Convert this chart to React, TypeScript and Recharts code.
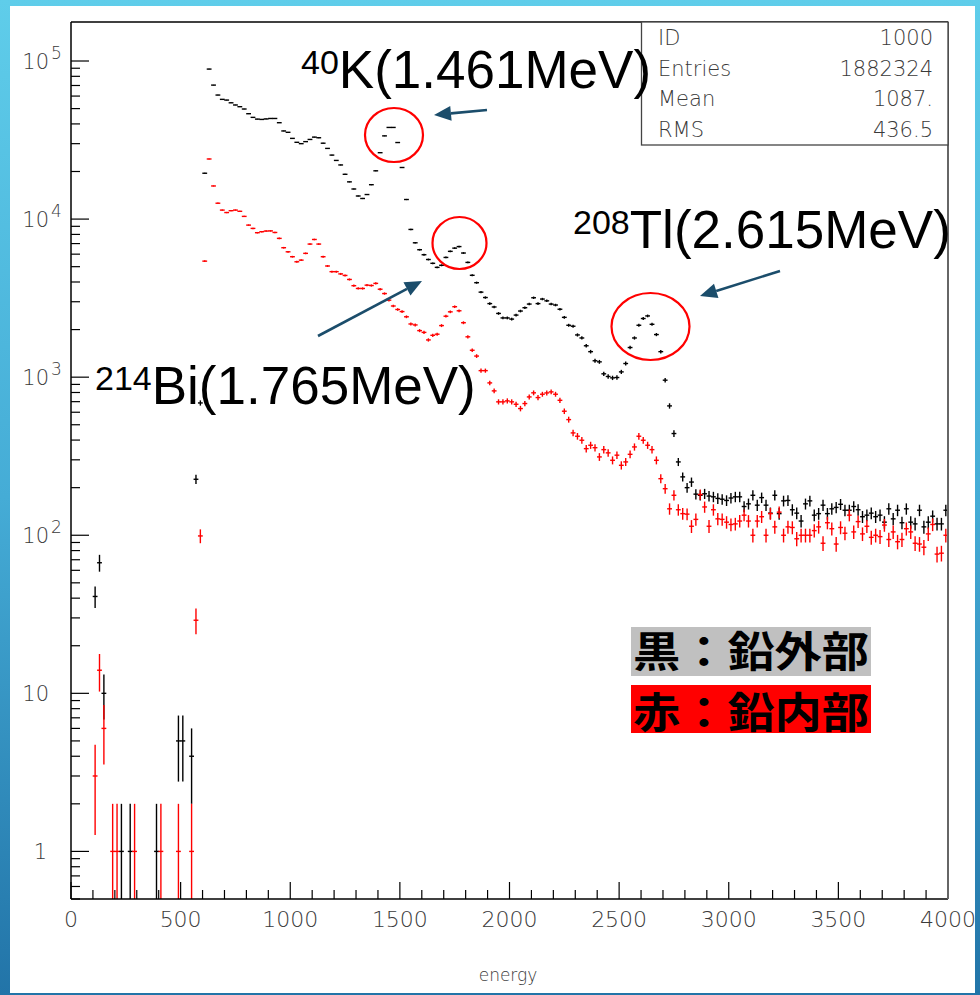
import React from 'react';
import { ScatterChart, Scatter, XAxis, YAxis, ErrorBar } from 'recharts';

// エネルギースペクトル: 20 keV ビン × 200 (0–4000)
const BIN_WIDTH = 20;
const BIN_COUNT = 200;

// 黒：鉛外部
const OUTSIDE_COUNTS = [
  0, 0, 0, 0, 0, 41, 67, 10, 0, 0,
  0, 1, 0, 1, 0, 0, 0, 0, 0, 1,
  0, 0, 0, 0, 5, 5, 0, 4, 226, 687,
  19500, 88900, 70400, 60900, 57200, 56600, 54400, 52700, 51400, 49700,
  46400, 44000, 42900, 42700, 43000, 43300, 43300, 40700, 36100, 35400,
  32400, 30600, 30000, 30900, 31900, 33000, 32700, 30200, 28000, 25400,
  23500, 22000, 19200, 17200, 15500, 14000, 13500, 14300, 16500, 20200,
  26300, 33600, 38000, 38000, 30500, 21200, 13300, 8600, 7080, 6400,
  5950, 5550, 5250, 4950, 5100, 5720, 6250, 6550, 6700, 6100,
  5320, 4410, 3960, 3450, 3190, 2920, 2780, 2530, 2370, 2370,
  2330, 2470, 2620, 2750, 2900, 3180, 2920, 3120, 3040, 2900,
  2860, 2690, 2390, 2130, 2100, 1850, 1770, 1580, 1450, 1270,
  1250, 1050, 1010, 990, 995, 1080, 1220, 1540, 1770, 2130,
  2350, 2440, 2160, 1860, 1450, 957, 658, 440, 291, 234,
  200, 217, 182, 179, 183, 177, 175, 171, 169, 166,
  172, 175, 175, 152, 158, 179, 155, 173, 155, 138,
  179, 137, 165, 166, 145, 138, 123, 158, 165, 134,
  137, 155, 137, 147, 150, 157, 144, 144, 152, 145,
  131, 134, 138, 131, 134, 121, 147, 127, 144, 120,
  147, 121, 118, 144, 113, 121, 132, 118, 118, 144,
];

// 赤：鉛内部
const INSIDE_COUNTS = [
  0, 0, 0, 0, 0, 3, 14, 6, 0, 1,
  1, 0, 0, 0, 1, 0, 0, 0, 0, 0,
  1, 0, 0, 0, 1, 0, 0, 1, 29, 99,
  5420, 24000, 16200, 12600, 11400, 11000, 11300, 11400, 11200, 10400,
  9160, 8730, 8200, 8320, 8400, 8420, 8230, 7550, 6590, 6210,
  5780, 5370, 5500, 6070, 6950, 7430, 6950, 5780, 5050, 4650,
  4650, 4500, 4400, 4150, 3790, 3640, 3640, 3820, 3800, 3920,
  3600, 3380, 3070, 2820, 2680, 2600, 2410, 2170, 2140, 1970,
  1920, 1720, 1840, 1870, 2120, 2430, 2590, 2790, 2630, 2210,
  1800, 1480, 1360, 1100, 1100, 920, 819, 698, 698, 708,
  698, 674, 633, 681, 750, 796, 743, 780, 795, 807,
  780, 714, 609, 539, 444, 423, 399, 353, 371, 358,
  313, 348, 332, 298, 321, 277, 291, 325, 362, 423,
  399, 371, 348, 298, 228, 197, 147, 179, 145, 137,
  136, 114, 126, 181, 151, 114, 145, 127, 126, 121,
  117, 118, 123, 134, 123, 100, 123, 131, 100, 137,
  113, 140, 100, 113, 112, 95, 100, 100, 100, 107,
  113, 89, 120, 110, 88, 112, 103, 134, 105, 122,
  102, 114, 97, 100, 98, 116, 94, 105, 91, 94,
  110, 105, 89, 88, 84, 102, 117, 76, 77, 100,
];

const STAT_NAMES = ['ID', 'Entries', 'Mean', 'RMS'];
const STAT_VALUES = ['1000', '1882324', '1087.', '436.5'];

const LEGEND_LABELS = ['黒：鉛外部', '赤：鉛内部'];

const X_MAX = BIN_WIDTH * BIN_COUNT;
const X_TICKS = Array.from({ length: X_MAX / 100 + 1 }, (_, i) => i * 100);
const Y_MIN = 0.5;
const Y_MAX = 176500;
const DECADES = [0.1, 1, 10, 100, 1000, 10000, 100000];
const Y_TICKS = DECADES.flatMap((d) => [1, 2, 3, 4, 5, 6, 7, 8, 9].map((m) => m * d)).filter(
  (v) => v >= Y_MIN && v <= Y_MAX
);

const X_HALF = 11; // 横棒の半幅 (keV)

const AXIS_FONT = "'DejaVu Sans', sans-serif";
const BIG_FONT = "'Liberation Sans', Arial, sans-serif";
const CJK_FONT = "'Noto Sans CJK JP', sans-serif";
const AXIS_INK = '#3a3a3a';

// ポアソン誤差 (下側は表示範囲で止める)
const toPoints = (counts: number[]) =>
  counts
    .map((n, i) => ({
      e: BIN_WIDTH * i + BIN_WIDTH / 2,
      n,
      ex: X_HALF,
      ey: [Math.min(Math.sqrt(n), n - Y_MIN), Math.sqrt(n)],
    }))
    .filter((p) => p.n > 0);

const outsidePoints = toPoints(OUTSIDE_COUNTS);
const insidePoints = toPoints(INSIDE_COUNTS);

const NoMarker = () => <g />;

const XTick = (props: any) => {
  const { x, y, payload } = props;
  const v = payload.value as number;
  const major = v % 500 === 0;
  return (
    <g>
      <line x1={x} x2={x} y1={y} y2={y - (major ? 17 : 9)} stroke="#000" strokeWidth={1.2} />
      {major && (
        <text x={x} y={y + 28} textAnchor="middle" fontFamily={AXIS_FONT} fontWeight={200} fontSize={22} fill={AXIS_INK}>
          {v}
        </text>
      )}
    </g>
  );
};

const YTick = (props: any) => {
  const { x, y, payload } = props;
  const v = payload.value as number;
  const exp = Math.round(Math.log10(v));
  const major = Math.abs(v - Math.pow(10, exp)) < 1e-6 * v;
  return (
    <g>
      <line x1={x} x2={x + (major ? 18 : 9)} y1={y} y2={y} stroke="#000" strokeWidth={1.2} />
      {major && exp === 0 && (
        <text x={x - 24} y={y + 8} textAnchor="end" fontFamily={AXIS_FONT} fontWeight={200} fontSize={21} fill={AXIS_INK}>
          1
        </text>
      )}
      {major && exp >= 1 && (
        <text x={x - 22} y={y + 8} textAnchor="end" fontFamily={AXIS_FONT} fontWeight={200} fontSize={21} fill={AXIS_INK}>
          10
        </text>
      )}
      {major && exp >= 2 && (
        <text x={x - 20} y={y - 2} fontFamily={AXIS_FONT} fontWeight={200} fontSize={17} fill={AXIS_INK}>
          {exp}
        </text>
      )}
    </g>
  );
};

const Arrow = ({ from, to }: { from: [number, number]; to: [number, number] }) => {
  const dx = to[0] - from[0];
  const dy = to[1] - from[1];
  const len = Math.hypot(dx, dy);
  const ux = dx / len;
  const uy = dy / len;
  const head = 17;
  const half = 7.5;
  const bx = to[0] - ux * head;
  const by = to[1] - uy * head;
  const pts = [
    `${to[0]},${to[1]}`,
    `${bx + uy * half},${by - ux * half}`,
    `${bx - uy * half},${by + ux * half}`,
  ].join(' ');
  return (
    <g>
      <line x1={from[0]} y1={from[1]} x2={bx} y2={by} stroke="#1b4d6b" strokeWidth={2.6} />
      <polygon points={pts} fill="#1b4d6b" />
    </g>
  );
};

// 核種ラベル (上付き質量数)
const Nuclide = ({ x, y, mass, rest }: { x: number; y: number; mass: string; rest: string }) => (
  <text x={x} y={y} fontFamily={BIG_FONT} fontSize={53} fill="#000">
    <tspan fontSize={34} dy={-14}>
      {mass}
    </tspan>
    <tspan dy={14}>{rest}</tspan>
  </text>
);

const App: React.FC = () => {
  return (
    <div
      style={{
        position: 'absolute',
        left: 0,
        top: 0,
        width: 980,
        height: 995,
        background: 'linear-gradient(to bottom, #5fcdea 0%, #45acd6 50%, #2274a8 100%)',
      }}
    >
      <div style={{ position: 'absolute', left: 10, top: 6, width: 965, height: 987, background: '#fff' }} />
      <div style={{ position: 'absolute', left: 0, top: 0 }}>
        <ScatterChart width={980} height={995} margin={{ top: 22, right: 32, bottom: 56, left: 11 }}>
          <XAxis
            type="number"
            dataKey="e"
            domain={[0, X_MAX]}
            allowDataOverflow
            ticks={X_TICKS}
            interval={0}
            tick={XTick}
            tickLine={false}
            tickSize={0}
            tickMargin={0}
            height={40}
            axisLine={{ stroke: '#000', strokeWidth: 1.5 }}
          />
          <YAxis
            type="number"
            dataKey="n"
            scale="log"
            domain={[Y_MIN, Y_MAX]}
            allowDataOverflow
            ticks={Y_TICKS}
            interval={0}
            tick={YTick}
            tickLine={false}
            tickSize={0}
            tickMargin={0}
            width={60}
            axisLine={{ stroke: '#000', strokeWidth: 1.5 }}
          />
          <Scatter data={outsidePoints} fill="#000" shape={NoMarker} isAnimationActive={false}>
            <ErrorBar dataKey="ex" direction="x" width={0} stroke="#000" strokeWidth={1.4} isAnimationActive={false} />
            <ErrorBar dataKey="ey" direction="y" width={0} stroke="#000" strokeWidth={1.4} isAnimationActive={false} />
          </Scatter>
          <Scatter data={insidePoints} fill="#f00" shape={NoMarker} isAnimationActive={false}>
            <ErrorBar dataKey="ex" direction="x" width={0} stroke="#f00" strokeWidth={1.4} isAnimationActive={false} />
            <ErrorBar dataKey="ey" direction="y" width={0} stroke="#f00" strokeWidth={1.4} isAnimationActive={false} />
          </Scatter>
        </ScatterChart>
      </div>

      <svg
        width={980}
        height={995}
        style={{ position: 'absolute', left: 0, top: 0, pointerEvents: 'none' }}
      >
        {/* 枠 */}
        <line x1={71} x2={948} y1={22} y2={22} stroke="#000" strokeWidth={1.3} />
        <line x1={948} x2={948} y1={22} y2={899} stroke="#666" strokeWidth={2} />

        <text x={508} y={981} textAnchor="middle" fontFamily={AXIS_FONT} fontWeight={200} fontSize={17} fill={AXIS_INK}>
          energy
        </text>

        {/* 統計ボックス */}
        <rect x={641.5} y={22} width={306.5} height={123} fill="#fff" stroke="#444" strokeWidth={1.3} />
        {STAT_NAMES.map((name, i) => (
          <g key={name}>
            <text x={658} y={45 + i * 30.7} fontFamily={AXIS_FONT} fontWeight={200} fontSize={21} fill={AXIS_INK}>
              {name}
            </text>
            <text
              x={933}
              y={45 + i * 30.7}
              textAnchor="end"
              fontFamily={AXIS_FONT}
              fontWeight={200}
              fontSize={21}
              fill={AXIS_INK}
            >
              {STAT_VALUES[i]}
            </text>
          </g>
        ))}

        <ellipse cx={394} cy={135} rx={29} ry={27} fill="none" stroke="#f00" strokeWidth={2.2} />
        <ellipse cx={459.5} cy={243} rx={27} ry={26} fill="none" stroke="#f00" strokeWidth={2.2} />
        <ellipse cx={650.5} cy={326.5} rx={39} ry={33.5} fill="none" stroke="#f00" strokeWidth={2.2} />

        <Arrow from={[487, 110]} to={[434, 115]} />
        <Arrow from={[318, 336]} to={[422, 281]} />
        <Arrow from={[780, 271]} to={[700, 296]} />

        <Nuclide x={301} y={88} mass="40" rest="K(1.461MeV)" />
        <Nuclide x={573} y={248} mass="208" rest="Tl(2.615MeV)" />
        <Nuclide x={95} y={404} mass="214" rest="Bi(1.765MeV)" />

        {/* 凡例 */}
        <rect x={631} y={627} width={240} height={49} fill="#c0c0c0" />
        <rect x={631} y={685} width={240} height={48} fill="#f00" />
        {LEGEND_LABELS.map((label, i) => (
          <text
            key={label}
            x={633}
            y={667 + i * 61}
            fontFamily={CJK_FONT}
            fontSize={42}
            fontWeight={700}
            textLength={236}
            lengthAdjust="spacingAndGlyphs"
            fill="#000"
          >
            {label}
          </text>
        ))}
      </svg>
    </div>
  );
};

export default App;
